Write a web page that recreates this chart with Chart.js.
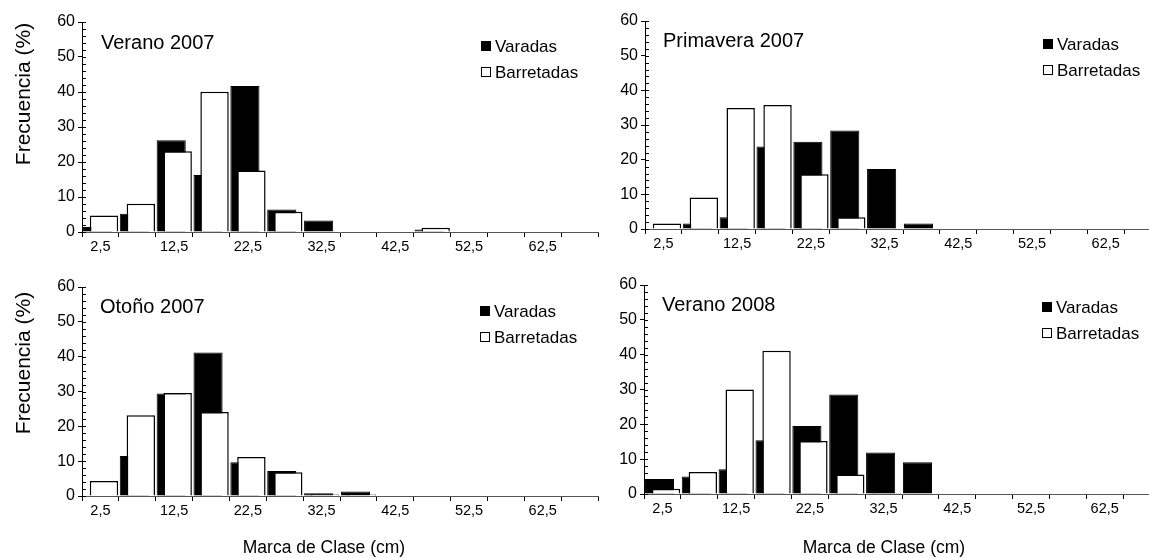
<!DOCTYPE html>
<html>
<head>
<meta charset="utf-8">
<script src="https://cdn.jsdelivr.net/npm/chart.js@4.4.0/dist/chart.umd.min.js"></script>
<style>
  html, body { margin: 0; padding: 0; background: #fff; }
  body { width: 1149px; height: 558px; overflow: hidden; position: relative; font-family: 'Liberation Sans', Arial, sans-serif; color: #000; }
  canvas.panel { position: absolute; }
  .txt { position: absolute; white-space: nowrap; line-height: 1; }
  .title { font-size: 20px; transform: translateY(-50%); }
  .leg { font-size: 17px; transform: translateY(-50%); }
  .sq { position: absolute; width: 10px; height: 10px; box-sizing: border-box; border: 1px solid #000; transform: translateY(-50%); }
  .sq.black { background: #000; }
  .sq.white { background: #fff; }
  .ytitle { font-size: 21px; transform: translate(-50%, -50%) rotate(-90deg); }
  .xtitle { font-size: 17.5px; transform: translate(-50%, -50%); }
</style>
</head>
<body>
<canvas class="panel" id="c1"></canvas>
<canvas class="panel" id="c2"></canvas>
<canvas class="panel" id="c3"></canvas>
<canvas class="panel" id="c4"></canvas>

<div class="txt title" style="left:101px;top:42px">Verano 2007</div>
<div class="txt title" style="left:663px;top:40px">Primavera 2007</div>
<div class="txt title" style="left:100px;top:306px">Otoño 2007</div>
<div class="txt title" style="left:662px;top:304px">Verano 2008</div>

<div class="sq black" style="left:481px;top:46px"></div><div class="txt leg" style="left:495px;top:46px">Varadas</div>
<div class="sq white" style="left:481px;top:72px"></div><div class="txt leg" style="left:495px;top:72px">Barretadas</div>
<div class="sq black" style="left:1043px;top:44px"></div><div class="txt leg" style="left:1057px;top:44px">Varadas</div>
<div class="sq white" style="left:1043px;top:70px"></div><div class="txt leg" style="left:1057px;top:70px">Barretadas</div>
<div class="sq black" style="left:480px;top:311px"></div><div class="txt leg" style="left:494px;top:311px">Varadas</div>
<div class="sq white" style="left:480px;top:337px"></div><div class="txt leg" style="left:494px;top:337px">Barretadas</div>
<div class="sq black" style="left:1042px;top:307px"></div><div class="txt leg" style="left:1056px;top:307px">Varadas</div>
<div class="sq white" style="left:1042px;top:333px"></div><div class="txt leg" style="left:1056px;top:333px">Barretadas</div>

<div class="txt ytitle" style="left:22px;top:94px">Frecuencia (%)</div>
<div class="txt ytitle" style="left:22px;top:363px">Frecuencia (%)</div>
<div class="txt xtitle" style="left:324px;top:548px">Marca de Clase (cm)</div>
<div class="txt xtitle" style="left:884px;top:548px">Marca de Clase (cm)</div>

<script>
// class marks (cm) and the x tick labels that are shown
const CLASS_MARKS = [2.5, 7.5, 12.5, 17.5, 22.5, 27.5, 32.5, 37.5, 42.5, 47.5, 52.5, 57.5, 62.5, 67.5];
const X_TICK_LABELS = ['2,5', '', '12,5', '', '22,5', '', '32,5', '', '42,5', '', '52,5', '', '62,5', ''];
const CLASS_WIDTH = 5;
const Y_MAX = 60;
const Y_STEP = 10;
const Y_MINOR_STEP = 2;

// Frecuencia (%) per class
const varadasVerano07 = [1.4, 5.2, 26.2, 16.3, 41.7, 6.4, 3.3, 0, 0, 0.7, 0, 0, 0, 0];
const barretadasVerano07 = [4.7, 8.1, 23.1, 40.1, 17.6, 5.8, 0, 0, 0, 1.2, 0, 0, 0, 0];

const varadasPrimavera07 = [0, 1.6, 3.4, 23.8, 25.2, 28.4, 17.3, 1.6, 0, 0, 0, 0, 0, 0];
const barretadasPrimavera07 = [1.6, 9.1, 34.9, 35.8, 15.8, 3.4, 0, 0, 0, 0, 0, 0, 0, 0];

const varadasOtono07 = [0, 11.5, 29.4, 41.2, 9.7, 7.2, 0.8, 1.3, 0, 0, 0, 0, 0, 0];
const barretadasOtono07 = [4.3, 23.2, 29.6, 24.1, 11.2, 6.8, 0.4, 0.4, 0, 0, 0, 0, 0, 0];

const varadasVerano08 = [4.3, 5.0, 7.1, 15.4, 19.5, 28.6, 11.9, 9.1, 0, 0, 0, 0, 0, 0];
const barretadasVerano08 = [1.5, 6.3, 30.0, 41.1, 15.2, 5.6, 0.3, 0, 0, 0, 0, 0, 0, 0];

// panel placement on the page (px); left charts run a little past the middle
const panels = [
  { id: 1, left: 0,   top: 0,   h: 270, axisX: 82, plotTop: 22, plotBottom: 232, varadas: varadasVerano07, barretadas: barretadasVerano07 },
  { id: 2, left: 575, top: 0,   h: 270, axisX: 70, plotTop: 21, plotBottom: 229, varadas: varadasPrimavera07, barretadas: barretadasPrimavera07 },
  { id: 3, left: 0,   top: 270, h: 288, axisX: 82, plotTop: 17, plotBottom: 226, varadas: varadasOtono07, barretadas: barretadasOtono07 },
  { id: 4, left: 575, top: 270, h: 288, axisX: 69, plotTop: 15, plotBottom: 224, varadas: varadasVerano08, barretadas: barretadasVerano08 }
];
const CLASS_PX = 36.85;         // width of one class on the axis
const SHIFT_VARADAS = 0.4;      // black bar sits left of the class centre
const SHIFT_BARRETADAS = -0.48; // white bar sits right of it

const xTickFont = { family: "'Liberation Sans', Arial, sans-serif", size: 14.5 };
const yTickFont = { family: "'Liberation Sans', Arial, sans-serif", size: 16 };

// inner half of the y ticks (major + minor)
const innerTicks = {
  id: 'innerTicks',
  afterDraw(chart) {
    const y = chart.scales.y;
    const x0 = chart.chartArea.left;
    const ctx = chart.ctx;
    ctx.save();
    ctx.strokeStyle = '#000';
    ctx.lineWidth = 1;
    for (let v = 0; v <= Y_MAX; v += Y_MINOR_STEP) {
      const py = Math.round(y.getPixelForValue(v)) + 0.5;
      ctx.beginPath();
      ctx.moveTo(x0, py);
      ctx.lineTo(x0 + 4, py);
      ctx.stroke();
    }
    ctx.restore();
  }
};

function hiddenAxis(shift) {
  const span = CLASS_MARKS.length * CLASS_WIDTH;
  return {
    type: 'linear',
    display: false,
    offset: false,
    min: shift,
    max: span + shift,
    afterBuildTicks: function(s) { s.ticks = [{ value: s.min }, { value: s.max }]; }
  };
}

panels.forEach(function(p) {
  const canvas = document.getElementById('c' + p.id);
  canvas.style.left = p.left + 'px';
  canvas.style.top = p.top + 'px';
  canvas.width = Math.round(p.axisX + CLASS_MARKS.length * CLASS_PX) + 2;
  canvas.height = p.h;

  new Chart(canvas, {
    type: 'bar',
    data: {
      labels: CLASS_MARKS,
      datasets: [
        {
          label: 'Varadas',
          data: p.varadas,
          xAxisID: 'xv',
          yAxisID: 'y',
          backgroundColor: '#000',
          borderColor: '#000',
          borderWidth: 1,
          grouped: false,
          categoryPercentage: 1,
          barPercentage: 0.79,
          order: 2
        },
        {
          label: 'Barretadas',
          data: p.barretadas,
          xAxisID: 'xb',
          yAxisID: 'y',
          backgroundColor: '#fff',
          borderColor: '#000',
          borderWidth: 1.5,
          grouped: false,
          categoryPercentage: 1,
          barPercentage: 0.77,
          order: 1
        }
      ]
    },
    options: {
      responsive: false,
      animation: false,
      layout: { padding: { top: p.plotTop, left: 0, right: 2, bottom: 0 } },
      plugins: {
        legend: { display: false },
        tooltip: { enabled: false }
      },
      scales: {
        x: {
          type: 'category',
          offset: true,
          grid: { offset: true, drawOnChartArea: false, tickLength: 5, color: '#000' },
          border: { color: '#555', width: 1 },
          ticks: {
            autoSkip: false,
            maxRotation: 0,
            padding: 1,
            color: '#000',
            font: xTickFont,
            callback: function(v, i) { return X_TICK_LABELS[i]; }
          },
          afterFit: function(s) { s.height = p.h - p.plotBottom; }
        },
        xv: hiddenAxis(SHIFT_VARADAS),
        xb: hiddenAxis(SHIFT_BARRETADAS),
        y: {
          min: 0,
          max: Y_MAX,
          ticks: { stepSize: Y_STEP, padding: 3, color: '#000', font: yTickFont },
          grid: { drawOnChartArea: false, tickLength: 4, color: '#000' },
          border: { color: '#000', width: 1 },
          afterFit: function(s) { s.width = p.axisX; }
        }
      }
    },
    plugins: [innerTicks]
  });
});
</script>
</body>
</html>
